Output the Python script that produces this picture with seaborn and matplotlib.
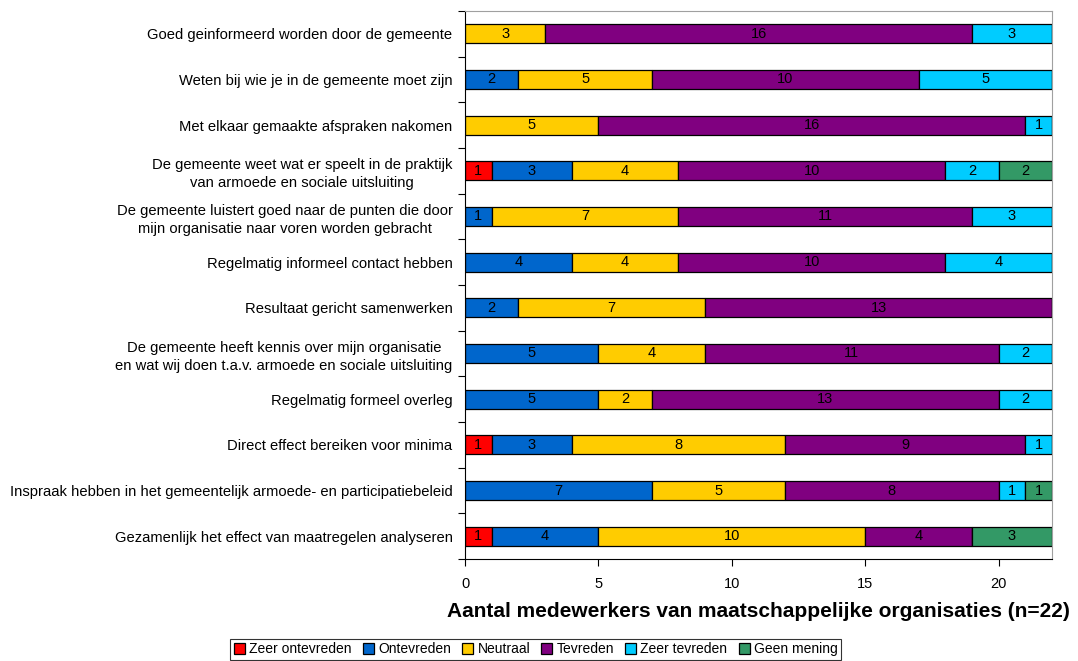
import pandas as pd
import matplotlib.pyplot as plt
import numpy as np
import seaborn as sns

# Stellingen (van boven naar beneden)
stellingen = [
    'Goed geinformeerd worden door de gemeente',
    'Weten bij wie je in de gemeente moet zijn',
    'Met elkaar gemaakte afspraken nakomen',
    'De gemeente weet wat er speelt in de praktijk\nvan armoede en sociale uitsluiting',
    'De gemeente luistert goed naar de punten die door\nmijn organisatie naar voren worden gebracht',
    'Regelmatig informeel contact hebben',
    'Resultaat gericht samenwerken',
    'De gemeente heeft kennis over mijn organisatie\nen wat wij doen t.a.v. armoede en sociale uitsluiting',
    'Regelmatig formeel overleg',
    'Direct effect bereiken voor minima',
    'Inspraak hebben in het gemeentelijk armoede- en participatiebeleid',
    'Gezamenlijk het effect van maatregelen analyseren',
]

categorieen = ['Zeer ontevreden', 'Ontevreden', 'Neutraal', 'Tevreden', 'Zeer tevreden', 'Geen mening']
kleuren = ['#FF0000', '#0066CC', '#FFCC00', '#800080', '#00CCFF', '#339966']

zeer_ontevreden = [0, 0, 0, 1, 0, 0, 0, 0, 0, 1, 0, 1]
ontevreden      = [0, 2, 0, 3, 1, 4, 2, 5, 5, 3, 7, 4]
neutraal        = [3, 5, 5, 4, 7, 4, 7, 4, 2, 8, 5, 10]
tevreden        = [16, 10, 16, 10, 11, 10, 13, 11, 13, 9, 8, 4]
zeer_tevreden   = [3, 5, 1, 2, 3, 4, 0, 2, 2, 1, 1, 0]
geen_mening     = [0, 0, 0, 2, 0, 0, 0, 0, 0, 0, 1, 3]

df = pd.DataFrame({
    'stelling': stellingen,
    'Zeer ontevreden': zeer_ontevreden,
    'Ontevreden': ontevreden,
    'Neutraal': neutraal,
    'Tevreden': tevreden,
    'Zeer tevreden': zeer_tevreden,
    'Geen mening': geen_mening,
})

sns.set_style('ticks')
plt.rcParams['font.family'] = ['Liberation Sans', 'DejaVu Sans']
plt.rcParams['text.color'] = 'black'
plt.rcParams['xtick.color'] = 'black'
plt.rcParams['ytick.color'] = 'black'
plt.rcParams['axes.labelcolor'] = 'black'

fig = plt.figure(figsize=(10.78, 6.61), dpi=100)
ax = fig.add_axes([0.4314, 0.1543, 0.9759 - 0.4314, 0.9834 - 0.1543])

# gestapelde balken: elke categorie begint waar de vorige eindigt
links = np.zeros(len(df))
for cat, kleur in zip(categorieen, kleuren):
    sns.barplot(data=df, x=cat, y='stelling', orient='h', color=kleur, left=links,
                width=0.42, edgecolor='black', linewidth=0.9, label=cat, ax=ax,
                saturation=1)
    ax.bar_label(ax.containers[-1], labels=[str(v) if v else '' for v in df[cat]],
                 label_type='center', fontsize=10.5, color='black')
    links = links + df[cat].values

if ax.get_legend() is not None:
    ax.get_legend().remove()

ax.set_xlim(0, 22)
ax.set_ylim(len(df) - 0.5, -0.5)
ax.set_xticks(np.arange(0, 21, 5))
ax.set_xlabel('Aantal medewerkers van maatschappelijke organisaties (n=22)',
              fontsize=15, fontweight='bold', labelpad=8)
ax.set_ylabel('')

# categorie-labels, tickstreepjes tussen de categorieen
ax.set_yticks(np.arange(len(df)))
ax.set_yticklabels(stellingen, fontsize=10.6, ha='right', multialignment='center',
                   linespacing=1.35)
ax.set_yticks(np.arange(-0.5, len(df), 1), minor=True)
ax.tick_params(axis='y', which='major', length=0, pad=9)
ax.tick_params(axis='y', which='minor', length=5, width=0.8, direction='out')
ax.tick_params(axis='x', length=5, width=0.8, direction='out', labelsize=10.5, pad=8)

for s in ['top', 'right']:
    ax.spines[s].set_visible(True)
    ax.spines[s].set_color('#A0A0A0')
    ax.spines[s].set_linewidth(0.8)
for s in ['left', 'bottom']:
    ax.spines[s].set_color('black')
    ax.spines[s].set_linewidth(0.8)

handles, labels = ax.get_legend_handles_labels()
leg = fig.legend(handles, labels, loc='lower center', bbox_to_anchor=(0.497, 0.0),
                 ncol=6, fontsize=10.0, frameon=True, fancybox=False, edgecolor='black',
                 handlelength=0.8, handleheight=0.8, handletextpad=0.3,
                 columnspacing=0.8, borderpad=0.25, borderaxespad=0.1)
leg.get_frame().set_linewidth(0.8)

fig.savefig('out.png', dpi=100)
